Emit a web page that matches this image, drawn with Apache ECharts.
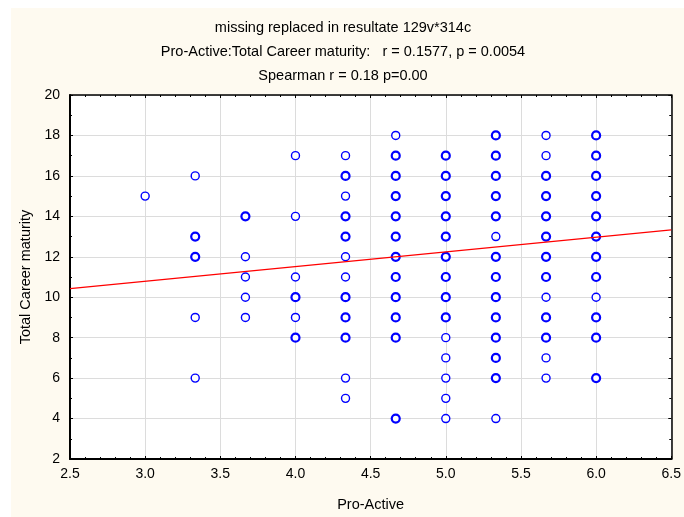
<!DOCTYPE html>
<html>
<head>
<meta charset="utf-8">
<script src="https://cdn.jsdelivr.net/npm/echarts@6/dist/echarts.min.js"></script>
<style>
html,body{margin:0;padding:0;background:#fff;}
#c{width:684px;height:517px;}
</style>
</head>
<body>
<div id="c"></div>
<script>
// Title lines
var titleLines = [
  'missing replaced in resultate 129v*314c',
  'Pro-Active:Total Career maturity:   r = 0.1577, p = 0.0054',
  'Spearman r = 0.18 p=0.00'
];
var xName = 'Pro-Active';
var yName = 'Total Career maturity';

// Points drawn once (thin circles)
var pointsSingle = [
  [3.0, 15],
  [3.333, 16], [3.333, 9], [3.333, 6],
  [3.667, 12], [3.667, 11], [3.667, 10], [3.667, 9],
  [4.0, 17], [4.0, 14], [4.0, 11], [4.0, 9],
  [4.333, 17], [4.333, 15], [4.333, 12], [4.333, 11], [4.333, 6], [4.333, 5],
  [4.667, 18],
  [5.0, 8], [5.0, 7], [5.0, 6], [5.0, 5], [5.0, 4],
  [5.333, 13], [5.333, 4],
  [5.667, 18], [5.667, 17], [5.667, 10], [5.667, 7], [5.667, 6],
  [6.0, 10]
];
// Points with overlapping cases (bold circles)
var pointsRepeated = [
  [3.333, 13], [3.333, 12],
  [3.667, 14],
  [4.0, 10], [4.0, 8],
  [4.333, 16], [4.333, 14], [4.333, 13], [4.333, 10], [4.333, 9], [4.333, 8],
  [4.667, 17], [4.667, 16], [4.667, 15], [4.667, 14], [4.667, 13], [4.667, 12],
  [4.667, 11], [4.667, 10], [4.667, 9], [4.667, 8], [4.667, 4],
  [5.0, 17], [5.0, 16], [5.0, 15], [5.0, 14], [5.0, 13], [5.0, 12], [5.0, 11], [5.0, 10], [5.0, 9],
  [5.333, 18], [5.333, 17], [5.333, 16], [5.333, 15], [5.333, 14], [5.333, 12],
  [5.333, 11], [5.333, 10], [5.333, 9], [5.333, 8], [5.333, 7], [5.333, 6],
  [5.667, 16], [5.667, 15], [5.667, 14], [5.667, 13], [5.667, 12], [5.667, 11], [5.667, 9], [5.667, 8],
  [6.0, 18], [6.0, 17], [6.0, 16], [6.0, 15], [6.0, 14], [6.0, 13], [6.0, 12], [6.0, 11],
  [6.0, 9], [6.0, 8], [6.0, 6]
];
// Regression line end points
var fitLine = [[2.5, 10.43], [6.5, 13.33]];

var FONT = '"Liberation Sans", Arial, sans-serif';
var chart = echarts.init(document.getElementById('c'), null, {renderer: 'canvas'});

var tickCommon = {show: true, inside: true, length: 3, lineStyle: {color: '#000', width: 1}};
var minorCommon = {show: true, length: 2, lineStyle: {color: '#000', width: 1}};

var titleY = [28, 52, 76];
var graphics = [{
  type: 'rect', z: -10, silent: true,
  shape: {x: 11, y: 8, width: 673, height: 509},
  style: {fill: '#FEFAF0'}
}];
titleLines.forEach(function (t, i) {
  graphics.push({
    type: 'text', x: 343, y: titleY[i], silent: true,
    style: {text: t, fill: '#000', font: '14.5px ' + FONT, textAlign: 'center', textVerticalAlign: 'middle'}
  });
});

chart.setOption({
  animation: false,
  backgroundColor: '#fff',
  graphic: graphics,
  grid: {left: 70, top: 95, width: 607, height: 364, show: true, backgroundColor: '#fff', borderWidth: 0},
  xAxis: [{
    type: 'value', min: 2.5, max: 6.5, interval: 0.5,
    name: xName, nameLocation: 'middle', nameGap: 38,
    nameTextStyle: {fontFamily: FONT, fontSize: 14.5, color: '#000'},
    axisLine: {show: true, onZero: false, lineStyle: {color: '#000', width: 2}},
    axisTick: tickCommon,
    minorTick: Object.assign({splitNumber: 5}, minorCommon),
    splitLine: {show: true, lineStyle: {color: '#dcdcdc', width: 1}},
    axisLabel: {fontFamily: FONT, fontSize: 14, color: '#000', margin: 8,
      formatter: function (v) { return v.toFixed(1); }}
  }, {
    type: 'value', position: 'top', min: 2.5, max: 6.5, interval: 0.5,
    axisLine: {show: true, onZero: false, lineStyle: {color: '#000', width: 1.5}},
    axisTick: tickCommon,
    minorTick: Object.assign({splitNumber: 5}, minorCommon),
    splitLine: {show: false}, axisLabel: {show: false}
  }],
  yAxis: [{
    type: 'value', min: 2, max: 20, interval: 2,
    name: yName, nameLocation: 'middle', nameGap: 33, nameRotate: 90,
    nameTextStyle: {fontFamily: FONT, fontSize: 14.5, color: '#000'},
    axisLine: {show: true, onZero: false, lineStyle: {color: '#000', width: 2}},
    axisTick: tickCommon,
    minorTick: Object.assign({splitNumber: 2}, minorCommon),
    splitLine: {show: true, lineStyle: {color: '#dcdcdc', width: 1}},
    axisLabel: {fontFamily: FONT, fontSize: 14, color: '#000', margin: 10}
  }, {
    type: 'value', position: 'right', min: 2, max: 20, interval: 2,
    axisLine: {show: true, onZero: false, lineStyle: {color: '#000', width: 1.5}},
    axisTick: tickCommon,
    minorTick: Object.assign({splitNumber: 2}, minorCommon),
    splitLine: {show: false}, axisLabel: {show: false}
  }],
  series: [{
    type: 'scatter', data: pointsSingle, symbol: 'circle', symbolSize: 8,
    itemStyle: {color: '#fff', borderColor: '#0000FF', borderWidth: 1.4, opacity: 1},
    z: 3
  }, {
    type: 'scatter', data: pointsRepeated, symbol: 'circle', symbolSize: 8,
    itemStyle: {color: '#fff', borderColor: '#0000FF', borderWidth: 2.2, opacity: 1},
    z: 3
  }, {
    type: 'line', data: fitLine, symbol: 'none',
    lineStyle: {color: '#FF0000', width: 1.3},
    z: 4
  }]
});
</script>
</body>
</html>
